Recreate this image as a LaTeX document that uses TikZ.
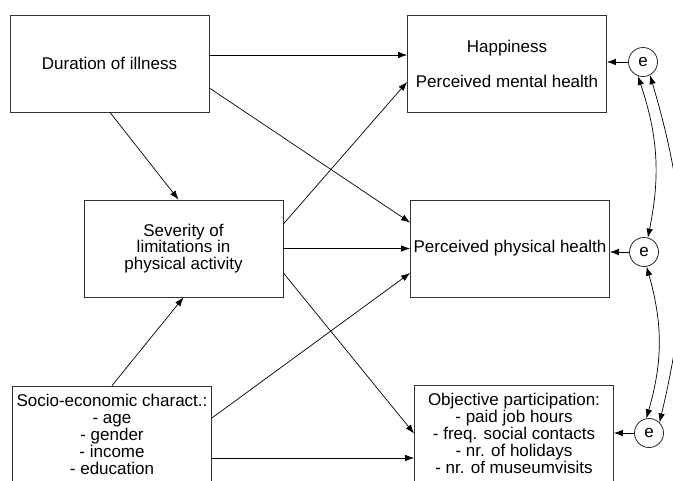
\documentclass[tikz,border=0pt]{standalone}
\usepackage{fontspec}
\setmainfont{Liberation Sans}
\usetikzlibrary{arrows.meta,calc}
\begin{document}
\begin{tikzpicture}[x=1pt,y=-1pt,
  box/.style={draw=black!80,line width=0.8pt,minimum width=199pt,minimum height=97pt,inner sep=0pt,align=center,
    font=\fontsize{17}{16.8}\selectfont},
  err/.style={draw=black!85,line width=0.8pt,circle,minimum size=29pt,inner sep=0pt,font=\fontsize{17}{17}\selectfont},
  conn/.style={line width=0.7pt,-{Latex[length=9pt,width=6.5pt]}},
  dconn/.style={line width=0.7pt,{Latex[length=9pt,width=6.5pt]}-{Latex[length=9pt,width=6.5pt]}}]
\clip (0,0) rectangle (673,480);
\node[box] (dur) at (109.5,63.5) {Duration of illness};
\node[box] (sev) at (183.5,248.5) {Severity of\\limitations in\\physical activity};
\node[box] (soc) at (112,434.5) {Socio-economic charact.:\\- age\\- gender\\- income\\- education};
\node[box] (hap) at (507,63.5) {Happiness\\[18.2pt]Perceived mental health};
\node[box] (pph) at (510,248.5) {Perceived physical health};
\node[box] (obj) at (514,433.5) {Objective participation:\\- paid job hours\\- freq. social contacts\\- nr. of holidays\\- nr. of museumvisits};
\node[err] (e1) at (643,62) {e};
\node[err] (e2) at (644,252) {e};
\node[err] (e3) at (649,433) {e};
% paths
\draw[conn] ($(dur.east)+(0,-8.5)$) -- ($(hap.west)+(0,-8.5)$);
\draw[conn] ($(dur.east)+(0,24.5)$) -- ($(pph.west)+(0,-26)$);
\draw[conn] ($(dur.south)+(0.5,0)$) -- ($(sev.north)+(-5,0)$);
\draw[conn] ($(sev.east)+(0,-24.5)$) -- ($(hap.west)+(0,18.5)$);
\draw[conn] (sev.east) -- (pph.west);
\draw[conn] ($(sev.east)+(0,24.5)$) -- (obj.west);
\draw[conn] (soc.north) -- (sev.south);
\draw[conn] ($(soc.east)+(0,-16.5)$) -- ($(pph.west)+(0,24.5)$);
\draw[conn] ($(soc.east)+(0,23.5)$) -- ($(obj.west)+(0,24.5)$);
% error terms
\draw[conn] (e1.west) -- (e1.west -| hap.east);
\draw[conn] (e2.west) -- (e2.west -| pph.east);
\draw[conn] (e3.west) -- (e3.west -| obj.east);
% covariances
\draw[dconn] (e1.-110) to[bend left=15] (e2.75);
\draw[dconn] (e1.-62) to[bend left=15] (e3.45);
\draw[dconn] (e2.-80) to[bend left=16] (e3.100);
\end{tikzpicture}
\end{document}
